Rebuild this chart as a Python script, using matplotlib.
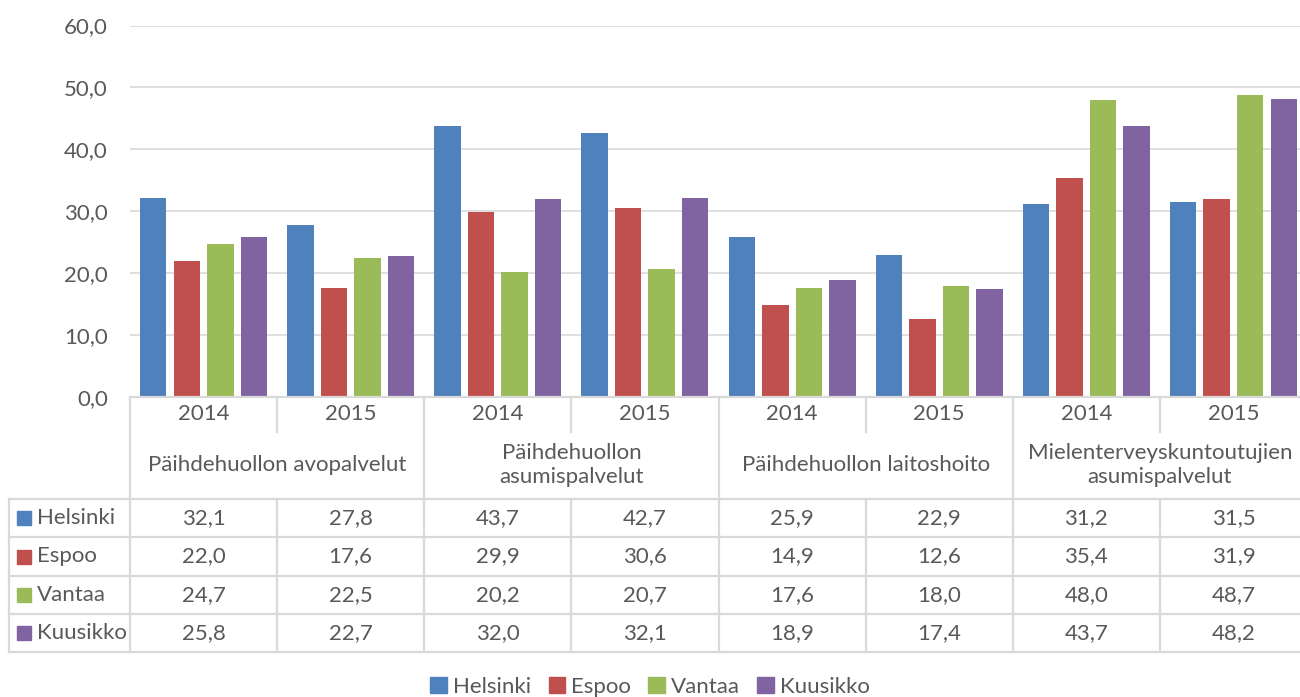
import matplotlib
matplotlib.use("Agg")
import matplotlib.pyplot as plt
from matplotlib.patches import Rectangle

plt.rcParams['font.family'] = ['Lato', 'DejaVu Sans']

series = ["Helsinki", "Espoo", "Vantaa", "Kuusikko"]
colors = ["#4F81BD", "#C0504D", "#9BBB59", "#8064A2"]
years = ["2014", "2015", "2014", "2015", "2014", "2015", "2014", "2015"]
categories = ["Päihdehuollon avopalvelut", "Päihdehuollon\nasumispalvelut",
              "Päihdehuollon laitoshoito", "Mielenterveyskuntoutujien\nasumispalvelut"]
helsinki = [32.1, 27.8, 43.7, 42.7, 25.9, 22.9, 31.2, 31.5]
espoo = [22.0, 17.6, 29.9, 30.6, 14.9, 12.6, 35.4, 31.9]
vantaa = [24.7, 22.5, 20.2, 20.7, 17.6, 18.0, 48.0, 48.7]
kuusikko = [25.8, 22.7, 32.0, 32.1, 18.9, 17.4, 43.7, 48.2]
values = [helsinki, espoo, vantaa, kuusikko]
yticks = [0, 10, 20, 30, 40, 50, 60]

W, H = 1300, 697
fig = plt.figure(figsize=(W / 100, H / 100), dpi=100)
txt = "#595959"
grid = "#D9D9D9"

# plot area in pixels
L, R, T, B = 130, 1307, 25.5, 397
ax = fig.add_axes([L / W, 1 - B / H, (R - L) / W, (B - T) / H])
n = len(years)
bw = 0.18
step = 0.228
for s, (vals, c) in enumerate(zip(values, colors)):
    xs = [i + (s - 1.5) * step for i in range(n)]
    ax.bar(xs, vals, width=bw, color=c, zorder=3)
ax.set_xlim(-0.5, n - 0.5)
ax.set_ylim(0, 60)
ax.set_yticks(yticks)
ax.set_yticklabels([f"{v:.1f}".replace(".", ",") for v in yticks], color=txt, fontsize=16)
ax.tick_params(axis='y', length=0, pad=16)
ax.set_xticks([])
ax.grid(axis='y', color=grid, linewidth=1.2, zorder=0)
for sp in ax.spines.values():
    sp.set_visible(False)

# table overlay in pixel coordinates
tx = fig.add_axes([0, 0, 1, 1])
tx.set_xlim(0, W)
tx.set_ylim(H, 0)
tx.axis('off')
lw = 1.6
gw = (R - L) / n
row_y = [499, 537, 576, 614, 652]
year_bot = 432
# horizontal lines
tx.plot([L, R], [B, B], color=grid, lw=lw)
tx.plot([9, R], [row_y[0], row_y[0]], color=grid, lw=lw)
for y in row_y[1:]:
    tx.plot([9, R], [y, y], color=grid, lw=lw)
# vertical lines
tx.plot([9, 9], [row_y[0], row_y[-1]], color=grid, lw=lw)
for i in range(n + 1):
    x = L + i * gw
    if i % 2 == 0:
        tx.plot([x, x], [B, row_y[-1]], color=grid, lw=lw)
    else:
        tx.plot([x, x], [B, year_bot], color=grid, lw=lw)
        tx.plot([x, x], [row_y[0], row_y[-1]], color=grid, lw=lw)
fs = 16
for i, yr in enumerate(years):
    tx.text(L + (i + 0.5) * gw, 414, yr, ha='center', va='center', color=txt, fontsize=fs)
for j, cat in enumerate(categories):
    tx.text(L + (2 * j + 1) * gw, 465, cat, ha='center', va='center', color=txt,
            fontsize=fs, linespacing=1.2)
for s, (name, c, vals) in enumerate(zip(series, colors, values)):
    yc = (row_y[s] + row_y[s + 1]) / 2
    tx.add_patch(Rectangle((17, yc - 7), 14, 14, color=c))
    tx.text(37, yc, name, ha='left', va='center', color=txt, fontsize=fs)
    for i, v in enumerate(vals):
        tx.text(L + (i + 0.5) * gw, yc, f"{v:.1f}".replace(".", ","), ha='center',
                va='center', color=txt, fontsize=fs)

# legend
handles = [Rectangle((0, 0), 1, 1, color=c) for c in colors]
fig.legend(handles, series, loc='center', bbox_to_anchor=(0.5, 1 - 687 / H), ncol=4,
           frameon=False, fontsize=fs, labelcolor=txt, handlelength=0.75, handleheight=0.75,
           handletextpad=0.25, columnspacing=0.8)

fig.savefig("out.png", dpi=100)
